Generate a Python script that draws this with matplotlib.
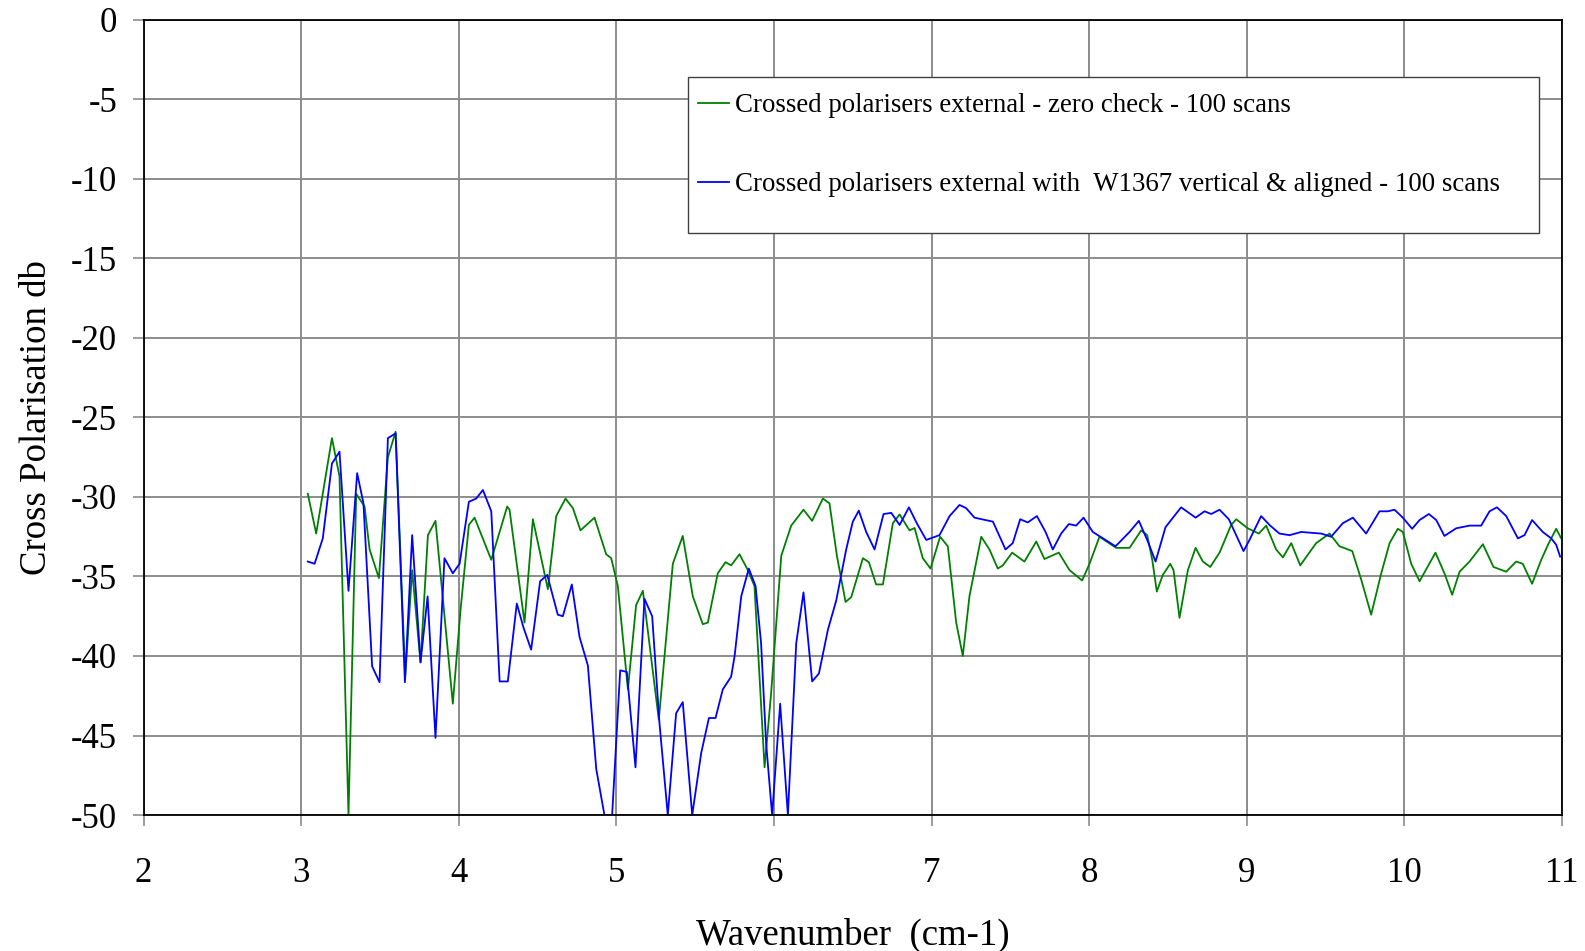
import matplotlib
matplotlib.use("Agg")
import matplotlib.pyplot as plt
from matplotlib.patches import Rectangle

plt.rcParams['font.family'] = ['Liberation Serif', 'DejaVu Serif']
plt.rcParams['axes.unicode_minus'] = False

# zero check, crossed polarisers only
wn_zero = [3.042, 3.095, 3.195, 3.243, 3.30, 3.349, 3.402, 3.434, 3.493, 3.55, 3.599,
           3.66, 3.704, 3.757, 3.804, 3.852, 3.962, 4.011, 4.064, 4.1, 4.206, 4.307,
           4.322, 4.417, 4.47, 4.565, 4.618, 4.677, 4.724, 4.772, 4.861, 4.935, 4.967,
           5.009, 5.073, 5.125, 5.168, 5.269, 5.358, 5.421, 5.485, 5.548, 5.58, 5.643,
           5.692, 5.728, 5.781, 5.834, 5.876, 5.94, 5.982, 6.046, 6.109, 6.187, 6.242,
           6.31, 6.352, 6.399, 6.454, 6.49, 6.564, 6.602, 6.648, 6.691, 6.754, 6.797,
           6.86, 6.892, 6.944, 6.993, 7.054, 7.103, 7.156, 7.198, 7.24, 7.315, 7.367,
           7.42, 7.452, 7.511, 7.589, 7.664, 7.716, 7.807, 7.875, 7.955, 8.002, 8.065,
           8.171, 8.256, 8.33, 8.368, 8.4, 8.429, 8.467, 8.514, 8.535, 8.573, 8.626,
           8.675, 8.721, 8.768, 8.827, 8.901, 8.933, 9.006, 9.076, 9.123, 9.186, 9.229,
           9.282, 9.339, 9.44, 9.525, 9.588, 9.669, 9.726, 9.789, 9.853, 9.906, 9.958,
           9.99, 10.043, 10.096, 10.197, 10.254, 10.303, 10.35, 10.413, 10.498, 10.565,
           10.646, 10.709, 10.751, 10.81, 10.868, 10.916, 10.963, 10.995]
db_zero = [-29.8, -32.3, -26.3, -28.7, -50.0, -29.8, -30.6, -33.3, -35.1, -27.5, -25.9,
           -41.3, -34.6, -40.4, -32.4, -31.5, -43.0, -37.1, -31.75, -31.3, -33.95, -30.6,
           -30.8, -37.9, -31.4, -35.8, -31.2, -30.1, -30.7, -32.1, -31.3, -33.6, -33.85,
           -35.6, -42.1, -36.8, -35.9, -44.0, -34.2, -32.45, -36.25, -38.0, -37.9, -34.8,
           -34.1, -34.3, -33.6, -34.6, -35.6, -47.0, -42.3, -33.7, -31.8, -30.8, -31.5,
           -30.1, -30.4, -33.7, -36.6, -36.3, -33.85, -34.1, -35.5, -35.5, -31.65, -31.1,
           -32.1, -31.95, -33.85, -34.5, -32.5, -33.1, -37.9, -40.0, -36.25, -32.5, -33.3,
           -34.5, -34.3, -33.5, -34.06, -32.8, -33.9, -33.5, -34.6, -35.25, -34.2, -32.5,
           -33.2, -33.2, -32.1, -32.4, -33.95, -35.95, -34.9, -34.2, -34.6, -37.6, -34.6,
           -33.2, -34.06, -34.4, -33.5, -31.75, -31.4, -31.97, -32.3, -31.8, -33.3, -33.8,
           -32.9, -34.3, -32.9, -32.3, -33.1, -33.4, -35.2, -37.4, -34.8, -32.9, -32.0,
           -32.2, -34.2, -35.3, -33.5, -34.8, -36.15, -34.7, -34.06, -32.97, -34.4,
           -34.7, -34.06, -34.2, -35.46, -33.95, -32.9, -32.0, -32.6]

# W1367 in the beam, vertical and aligned
wn_w1367 = [3.042, 3.085, 3.137, 3.195, 3.243, 3.30, 3.355, 3.395, 3.45, 3.497, 3.55,
            3.599, 3.658, 3.704, 3.757, 3.802, 3.852, 3.909, 3.962, 4.005, 4.064, 4.11,
            4.153, 4.206, 4.259, 4.311, 4.368, 4.41, 4.459, 4.516, 4.561, 4.628, 4.66,
            4.717, 4.766, 4.819, 4.872, 4.924, 4.973, 5.024, 5.066, 5.121, 5.178, 5.227,
            5.273, 5.326, 5.379, 5.421, 5.481, 5.538, 5.587, 5.629, 5.675, 5.728, 5.75,
            5.792, 5.84, 5.883, 5.918, 5.95, 5.988, 6.039, 6.088, 6.141, 6.187, 6.242,
            6.285, 6.342, 6.395, 6.458, 6.5, 6.538, 6.585, 6.638, 6.695, 6.744, 6.797,
            6.856, 6.906, 6.966, 7.05, 7.114, 7.177, 7.219, 7.272, 7.389, 7.469, 7.515,
            7.562, 7.61, 7.668, 7.723, 7.769, 7.822, 7.871, 7.917, 7.964, 8.023, 8.087,
            8.167, 8.256, 8.315, 8.372, 8.421, 8.484, 8.583, 8.675, 8.732, 8.774, 8.827,
            8.886, 8.979, 9.017, 9.091, 9.144, 9.207, 9.271, 9.345, 9.472, 9.535, 9.609,
            9.673, 9.757, 9.842, 9.895, 9.937, 9.99, 10.049, 10.096, 10.155, 10.202,
            10.254, 10.328, 10.413, 10.487, 10.54, 10.587, 10.646, 10.72, 10.762, 10.81,
            10.878, 10.931, 10.963, 10.988]
db_w1367 = [-34.06, -34.2, -32.6, -27.9, -27.15, -35.9, -28.5, -30.4, -40.65, -41.65, -26.3,
            -26.0, -41.65, -32.4, -40.4, -36.25, -45.15, -33.85, -34.8, -34.2, -30.3, -30.1,
            -29.56, -30.9, -41.6, -41.6, -36.7, -38.2, -39.6, -35.3, -34.9, -37.4, -37.5,
            -35.5, -38.8, -40.6, -47.1, -50.0, -50.0, -40.9, -41.0, -47.0, -36.4, -37.5,
            -44.2, -50.0, -43.6, -42.9, -50.0, -46.1, -43.9, -43.9, -42.1, -41.3, -40.0,
            -36.25, -34.5, -35.6, -39.2, -45.5, -50.0, -43.0, -50.0, -39.2, -36.0, -41.6,
            -41.1, -38.35, -36.5, -33.3, -31.55, -30.86, -32.2, -33.3, -31.07, -31.0, -31.76,
            -30.65, -31.65, -32.7, -32.4, -31.2, -30.5, -30.7, -31.3, -31.55, -33.3, -32.9,
            -31.4, -31.6, -31.2, -32.2, -33.3, -32.3, -31.7, -31.8, -31.3, -32.2, -32.6,
            -33.1, -32.2, -31.5, -32.8, -34.06, -31.9, -30.65, -31.3, -30.9, -31.07, -30.8,
            -31.4, -33.4, -32.7, -31.2, -31.76, -32.3, -32.4, -32.2, -32.3, -32.5, -31.65,
            -31.3, -32.3, -30.9, -30.9, -30.8, -31.3, -32.0, -31.45, -31.07, -31.45,
            -32.45, -31.97, -31.8, -31.8, -30.9, -30.65, -31.2, -32.6, -32.4, -31.45,
            -32.2, -32.6, -33.0, -33.75]

label_zero = 'Crossed polarisers external - zero check - 100 scans'
label_w1367 = 'Crossed polarisers external with  W1367 vertical & aligned - 100 scans'

fig = plt.figure(figsize=(15.85, 9.51), dpi=100)
ax = fig.add_axes([0.0906, 0.143, 0.8949, 0.836])

ax.plot(wn_zero, db_zero, color='#008000', lw=1.3, label=label_zero,
        solid_joinstyle='round')
ax.plot(wn_w1367, db_w1367, color='#0000ff', lw=1.3, label=label_w1367,
        solid_joinstyle='round')

ax.set_xlim(2, 11)
ax.set_ylim(-50, 0)
ax.set_xticks(range(2, 12))
ax.set_yticks(range(-50, 1, 5))
ax.grid(True, color='#8c8c8c', lw=1.4)
ax.set_axisbelow(True)
for sp in ax.spines.values():
    sp.set_color('black')
    sp.set_linewidth(1.3)
ax.tick_params(axis='both', direction='out', length=8, width=1.2, color='#8c8c8c',
               labelsize=25)
ax.tick_params(axis='y', pad=11)
ax.tick_params(axis='x', pad=22)

ax.set_xlabel('Wavenumber  (cm-1)', fontsize=26.5, labelpad=20)
ax.set_ylabel('Cross Polarisation db', fontsize=26.5, labelpad=12)

# legend box drawn separately so the padding can be set freely
ax.add_patch(Rectangle((0.384, 0.732), 0.6, 0.1967, transform=ax.transAxes,
                       facecolor='white', edgecolor='#404040', lw=1.0, zorder=4))
leg = ax.legend(loc='upper left', bbox_to_anchor=(0.391, 0.908),
                frameon=False, fontsize=19.4, handlelength=1.15, handletextpad=0.22,
                labelspacing=2.0, borderpad=0, borderaxespad=0)
leg.set_zorder(5)

fig.savefig('out.png', dpi=100)
